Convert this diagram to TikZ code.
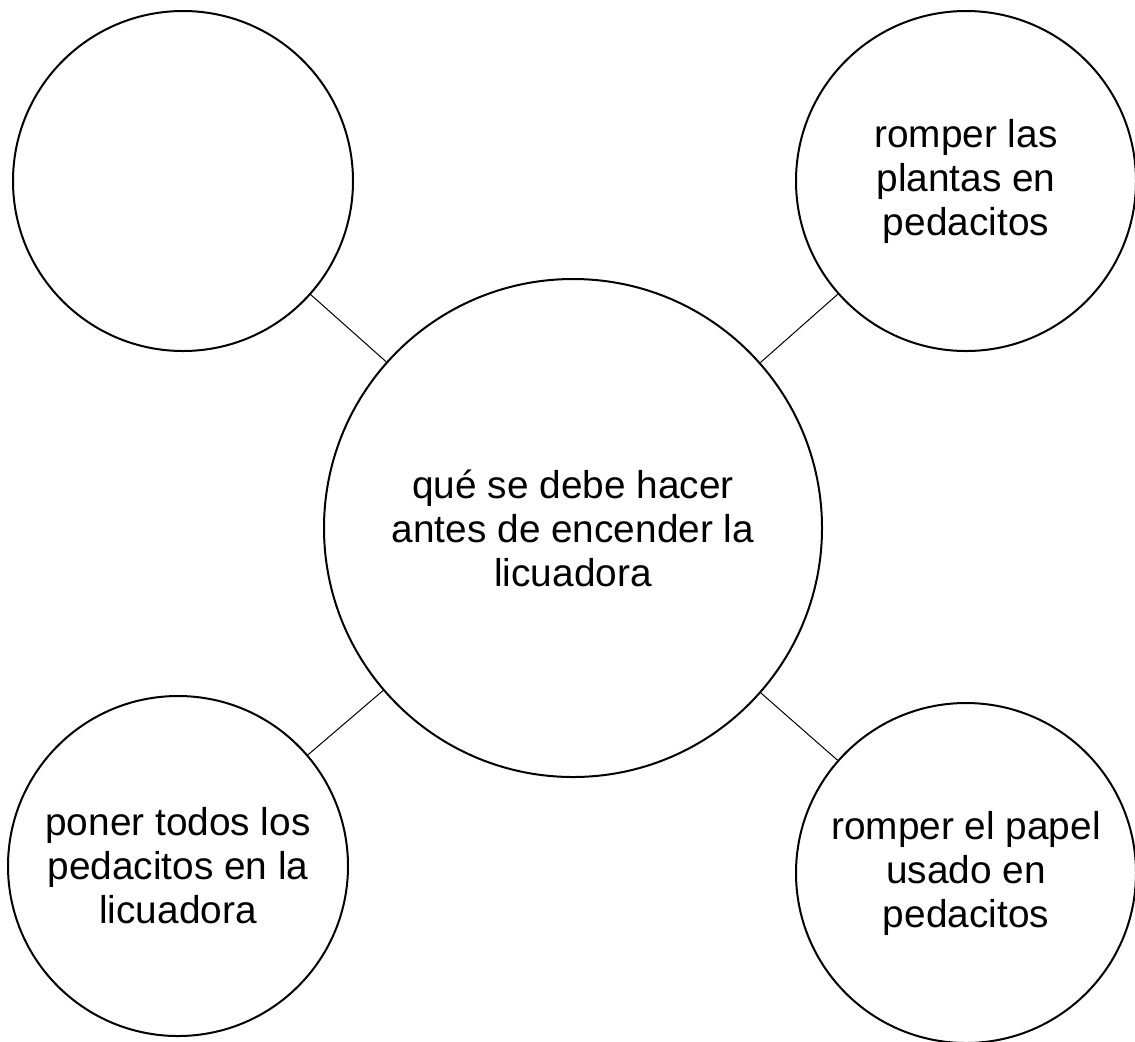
\documentclass[tikz,border=0pt]{standalone}
\usepackage{fontspec}
\setmainfont{Liberation Sans}
\usetikzlibrary{positioning}

\begin{document}
\begin{tikzpicture}[
  x=0.5pt, y=-0.5pt,
  font=\fontsize{19.4}{22}\selectfont,
  bubble/.style={draw, circle, line width=1pt, align=center, inner sep=0pt, minimum size=170pt},
  hub/.style={draw, circle, line width=1pt, align=center, inner sep=0pt, minimum size=249pt},
  link/.style={line width=0.5pt}
]
  \useasboundingbox (0,0) rectangle (1135,1041);

  % Central question
  \node[hub] (pregunta) at (573,528) {qué se debe hacer\\antes de encender la\\licuadora};

  % Surrounding steps
  \node[bubble] (vacio) at (183,181) {};
  \node[bubble] (plantas) at (966,181) {romper las\\plantas en\\pedacitos};
  \node[bubble] (poner) at (178,866) {poner todos los\\pedacitos en la\\licuadora};
  \node[bubble] (papel) at (966,873) {romper el papel\\usado en\\pedacitos};

  % Links
  \draw[link] (pregunta) -- (vacio);
  \draw[link] (pregunta) -- (plantas);
  \draw[link] (pregunta) -- (poner);
  \draw[link] (pregunta) -- (papel);
\end{tikzpicture}
\end{document}
